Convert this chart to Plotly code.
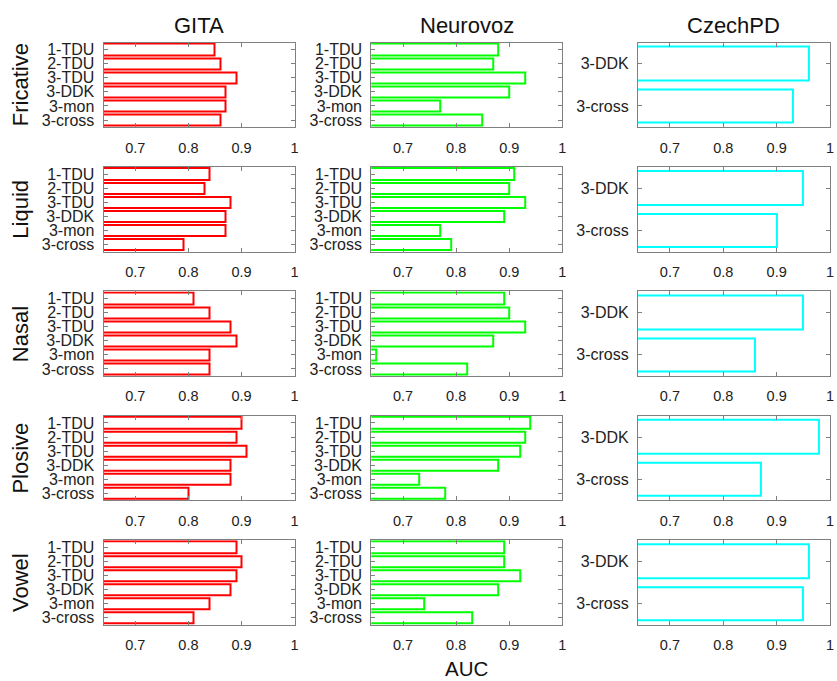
import plotly.graph_objects as go

datasets = ["GITA", "Neurovoz", "CzechPD"]
phonemes = ["Fricative", "Liquid", "Nasal", "Plosive", "Vowel"]
tasks_full = ["1-TDU", "2-TDU", "3-TDU", "3-DDK", "3-mon", "3-cross"]
tasks_czech = ["3-DDK", "3-cross"]

# AUC per phoneme row (Fricative, Liquid, Nasal, Plosive, Vowel)
gita_auc = [
    [0.85, 0.86, 0.89, 0.87, 0.87, 0.86],
    [0.84, 0.83, 0.88, 0.87, 0.87, 0.79],
    [0.81, 0.84, 0.88, 0.89, 0.84, 0.84],
    [0.90, 0.89, 0.91, 0.88, 0.88, 0.80],
    [0.89, 0.90, 0.89, 0.88, 0.84, 0.81],
]
neurovoz_auc = [
    [0.88, 0.87, 0.93, 0.90, 0.77, 0.85],
    [0.91, 0.90, 0.93, 0.89, 0.77, 0.79],
    [0.89, 0.90, 0.93, 0.87, 0.65, 0.82],
    [0.94, 0.93, 0.92, 0.88, 0.73, 0.78],
    [0.89, 0.89, 0.92, 0.88, 0.74, 0.83],
]
czech_auc = [
    [0.96, 0.93],
    [0.95, 0.90],
    [0.95, 0.86],
    [0.98, 0.87],
    [0.96, 0.95],
]

colors = ["#ff0000", "#00ff00", "#00ffff"]
all_data = [gita_auc, neurovoz_auc, czech_auc]
all_tasks = [tasks_full, tasks_full, tasks_czech]
x_tickvals = [0.7, 0.8, 0.9, 1.0]
x_ticktext = ["0.7", "0.8", "0.9", "1"]
x_range = [0.64, 1.0]

W, H = 837, 681
col_px = [(104, 296), (373, 565), (641, 834)]
row_top0, row_bot0, row_step = 41.7, 126.7, 125.0

FONT = "Liberation Sans, Arial, Helvetica, sans-serif"
fig = go.Figure()
layout = {}
for r in range(5):
    top = row_top0 + r * row_step
    bot = row_bot0 + r * row_step
    for c in range(3):
        k = r * 3 + c + 1
        xa = "x" if k == 1 else f"x{k}"
        ya = "y" if k == 1 else f"y{k}"
        tasks = all_tasks[c]
        fig.add_trace(go.Bar(
            x=all_data[c][r], y=tasks, orientation="h", base=0,
            width=0.8, xaxis=xa, yaxis=ya,
            marker=dict(color="white", line=dict(color=colors[c], width=2)),
            showlegend=False, hoverinfo="x+y",
        ))
        n = len(tasks)
        layout["xaxis" if k == 1 else f"xaxis{k}"] = dict(
            domain=[col_px[c][0] / W, col_px[c][1] / W],
            anchor=ya, range=x_range, tickmode="array",
            tickvals=x_tickvals, ticktext=x_ticktext,
            ticks="inside", ticklen=4, tickcolor="#808080",
            showline=True, linecolor="#808080", linewidth=1, mirror="ticks",
            showgrid=False, zeroline=False, fixedrange=True,
            tickfont=dict(size=14.5, color="#222", family=FONT),
            ticklabelstandoff=7,
        )
        layout["yaxis" if k == 1 else f"yaxis{k}"] = dict(
            domain=[1 - bot / H, 1 - top / H],
            anchor=xa, type="category", categoryarray=tasks,
            tickmode="array", tickvals=tasks, ticktext=tasks,
            range=[n - 0.5, -0.5],
            ticks="inside", ticklen=4, tickcolor="#808080",
            showline=True, linecolor="#808080", linewidth=1, mirror="ticks",
            showgrid=False, zeroline=False, fixedrange=True,
            tickfont=dict(size=16, color="#222", family=FONT),
            ticklabelstandoff=5,
        )

annotations = []
for c, name in enumerate(datasets):
    annotations.append(dict(
        text=name, x=(col_px[c][0] + col_px[c][1]) / 2 / W, y=1 - 25 / H,
        xref="paper", yref="paper", showarrow=False, xanchor="center", yanchor="middle",
        font=dict(size=22, color="#111", family=FONT)))
for r, name in enumerate(phonemes):
    yc = (row_top0 + row_bot0) / 2 + r * row_step
    annotations.append(dict(
        text=name, x=20.5 / W, y=1 - yc / H, textangle=-90,
        xref="paper", yref="paper", showarrow=False, xanchor="center", yanchor="middle",
        font=dict(size=22, color="#111", family=FONT)))
annotations.append(dict(
    text="AUC", x=469 / W, y=1 - 670 / H,
    xref="paper", yref="paper", showarrow=False, xanchor="center", yanchor="middle",
    font=dict(size=20.5, color="#111", family=FONT)))

fig.update_layout(
    width=W, height=H, margin=dict(l=0, r=0, t=0, b=0),
    paper_bgcolor="white", plot_bgcolor="white",
    annotations=annotations, bargap=0, **layout,
)
fig.write_html(
    "out.html",
    config={"displayModeBar": False, "staticPlot": False},
    post_script="document.body.style.margin='0';document.body.style.overflow='hidden';",
)
